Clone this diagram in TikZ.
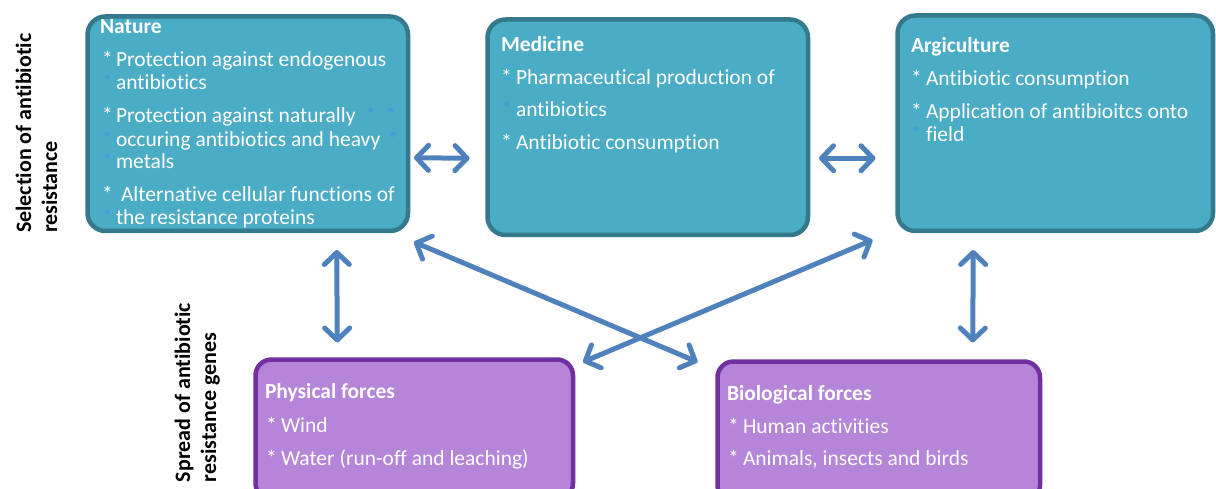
\documentclass[tikz,border=0pt]{standalone}
\usepackage{fontspec}
\setmainfont{Carlito}[Ligatures={NoCommon}]
\usetikzlibrary{arrows.meta,calc}
\definecolor{tealfill}{HTML}{4BACC6}
\definecolor{tealdraw}{HTML}{34798C}
\definecolor{purplefill}{HTML}{B485D9}
\definecolor{purpledraw}{HTML}{7030A0}
\definecolor{linkblue}{HTML}{4F81BD}
\definecolor{ghoststar}{HTML}{3A9AD9}
\begin{document}
\begin{tikzpicture}[x=1pt,y=-1pt,
  tealbox/.style={draw=tealdraw,fill=tealfill,line width=4.5pt,rounded corners=18pt,outer sep=0pt,inner sep=0pt,anchor=north west},
  purplebox/.style={draw=purpledraw,fill=purplefill,line width=4.5pt,rounded corners=16pt,outer sep=0pt,inner sep=0pt,anchor=north west},
  txt/.style={anchor=base west,inner sep=0pt,outer sep=0pt,text=white,font=\fontsize{21.5}{24}\selectfont},
  head/.style={txt,font=\fontsize{21.5}{24}\selectfont\bfseries},
  ghost/.style={txt,text=ghoststar},
  side/.style={anchor=base west,rotate=90,inner sep=0pt,outer sep=0pt,font=\fontsize{22}{24}\selectfont\bfseries},
  link/.style={draw=linkblue,line width=5pt,{Straight Barb[length=12pt,width=25pt,round]}-{Straight Barb[length=12pt,width=25pt,round]}}
]
\useasboundingbox (0,0) rectangle (1216,489);
\clip (0,0) rectangle (1216,489);

% side captions
\node[side] (sel1) at (31,233) {Selection of antibiotic};
\node[side] (sel2) at (57,233) {resistance};
\node[side] (spr1) at (190,482) {Spread of antibiotic};
\node[side] (spr2) at (216,482) {resistance genes};

% boxes
\node[tealbox,minimum width=320.5pt,minimum height=214.5pt] (nature) at (87.5,16.5) {};
\node[tealbox,minimum width=320.5pt,minimum height=215.5pt] (medicine) at (487.5,19.5) {};
\node[tealbox,minimum width=315.5pt,minimum height=215.5pt] (argi) at (897.5,15.5) {};
\node[purplebox,minimum width=317.5pt,minimum height=140pt] (physical) at (255.5,359.5) {};
\node[purplebox,minimum width=322.5pt,minimum height=140pt] (biological) at (717.5,361.5) {};

% Nature
\node[head] (n0) at (100,34) {Nature};
\node[txt] (n1s) at (102,67) {*};
\node[txt] (n1) at (116,67) {Protection against endogenous};
\node[ghost] (n2s) at (102,90) {*};
\node[txt] (n2) at (116,90) {antibiotics};
\node[txt] (n3s) at (102,123) {*};
\node[txt] (n3) at (116,123) {Protection against naturally};
\node[ghost] (n3g1) at (365,123) {*};
\node[ghost] (n3g2) at (385,123) {*};
\node[ghost] (n4s) at (102,147) {*};
\node[txt] (n4) at (116,147) {occuring antibiotics and heavy};
\node[ghost] (n4g) at (388,147) {*};
\node[ghost] (n5s) at (102,169) {*};
\node[txt] (n5) at (116,169) {metals};
\node[txt] (n6s) at (102,202) {*};
\node[txt] (n6) at (121,202) {Alternative cellular functions of};
\node[ghost] (n7s) at (102,225) {*};
\node[txt] (n7) at (116,225) {the resistance proteins};

% Medicine
\node[head] (m0) at (501,52) {Medicine};
\node[txt] (m1s) at (501,85) {*};
\node[txt] (m1) at (516,85) {Pharmaceutical production of};
\node[ghost] (m2s) at (501,117) {*};
\node[txt] (m2) at (516,117) {antibiotics};
\node[txt] (m3s) at (501,150) {*};
\node[txt] (m3) at (516,150) {Antibiotic consumption};

% Argiculture
\node[head] (a0) at (911,53) {Argiculture};
\node[txt] (a1s) at (911,86) {*};
\node[txt] (a1) at (926,86) {Antibiotic consumption};
\node[txt] (a2s) at (911,119) {*};
\node[txt] (a2) at (926,119) {Application of antibioitcs onto};
\node[ghost] (a3s) at (911,142) {*};
\node[txt] (a3) at (926,142) {field};

% Physical forces
\node[head] (p0) at (265,398) {Physical forces};
\node[txt] (p1s) at (266,432) {*};
\node[txt] (p1) at (281,432) {Wind};
\node[txt] (p2s) at (266,465) {*};
\node[txt] (p2) at (281,465) {Water (run-off and leaching)};

% Biological forces
\node[head] (b0) at (727,400) {Biological forces};
\node[txt] (b1s) at (728,433) {*};
\node[txt] (b1) at (743,433) {Human activities};
\node[txt] (b2s) at (728,465) {*};
\node[txt] (b2) at (743,465) {Animals, insects and birds};

% connectors
\draw[link] ($(nature.east)+(6,34)$) -- ($(medicine.west)+(-18,31)$);
\draw[link] ($(medicine.east)+(11,31)$) -- ($(argi.west)+(-22,35)$);
\draw[link] ($(nature.south)+(89,19)$) -- ($(physical.north)+(-77,-17)$);
\draw[link] ($(argi.south)+(-82,19)$) -- ($(biological.north)+(94,-19)$);
\draw[link] ($(nature.south east)+(6,11)$) -- ($(biological.north west)+(-20,0.5)$);
\draw[link] ($(argi.south west)+(-25,9)$) -- ($(physical.north east)+(10,2.5)$);
\end{tikzpicture}
\end{document}
